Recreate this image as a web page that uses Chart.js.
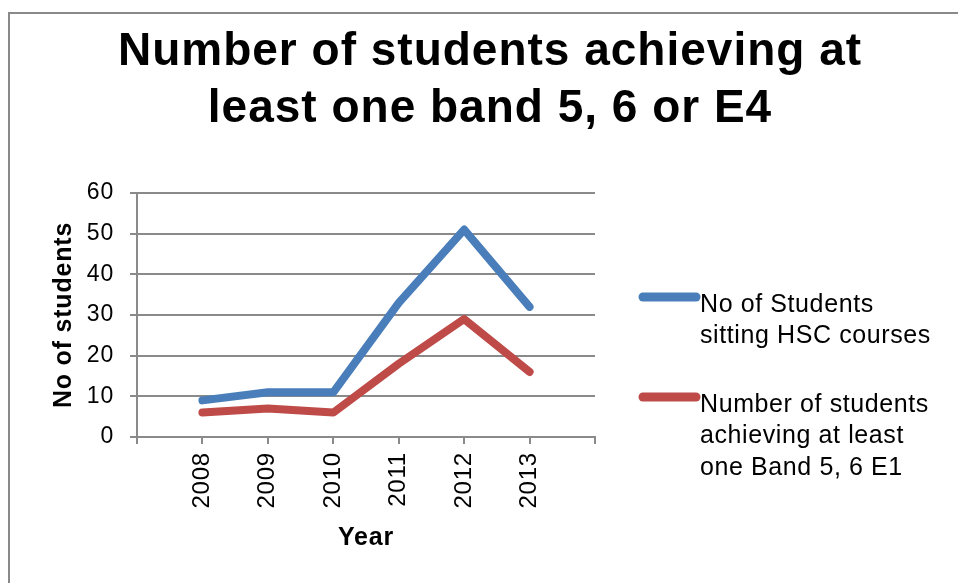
<!DOCTYPE html>
<html><head><meta charset="utf-8">
<script src="https://cdn.jsdelivr.net/npm/chart.js@4/dist/chart.umd.min.js"></script>
<style>
html,body{margin:0;padding:0;background:#fff;width:958px;height:583px;overflow:hidden}
#frame{position:absolute;left:8px;top:12px;width:980px;height:620px;border-top:2px solid #898989;border-left:2px solid #898989;}
#wrap{position:absolute;left:0;top:0;width:958px;height:583px}
</style></head><body>
<div id="frame"></div>
<div id="wrap"><canvas id="c" width="958" height="583"></canvas></div>
<script>
// ---- data ----
const titleLines = ['Number of students achieving at', 'least one band 5, 6 or E4'];
const years = [2008, 2009, 2010, 2011, 2012, 2013];
const sittingHSC = [9, 11, 11, 33, 51, 32];
const achievingBand = [6, 7, 6, 18, 29, 16];
const seriesNames = [
  ['No of Students', 'sitting HSC courses'],
  ['Number of students', 'achieving at least', 'one Band 5, 6 E1']
];
const yTickValues = [0, 10, 20, 30, 40, 50, 60];
const xTitle = 'Year';
const yTitle = 'No of students';

// ---- styles ----
const seriesColors = ['#4A7EBB', '#BE4B48'];
const gridColor = '#8a8a8a';
const FONT = '"Liberation Sans", Arial, Helvetica, sans-serif';
Chart.defaults.font.family = FONT;
Chart.defaults.color = '#000';

const toPoints = arr => arr.map((v, i) => ({x: years[i], y: v}));

const spacingPlugin = {
  id: 'spacing',
  beforeDraw(chart) { chart.ctx.letterSpacing = '0.8px'; },
  beforeDatasetsDraw(chart) { chart.ctx.letterSpacing = '0px'; }
};

const titlePlugin = {
  id: 'customTitle',
  afterDraw(chart) {
    const ctx = chart.ctx;
    ctx.save();
    ctx.letterSpacing = '1px';
    ctx.font = 'bold 46px ' + FONT;
    ctx.fillStyle = '#000';
    ctx.textAlign = 'center';
    ctx.textBaseline = 'alphabetic';
    const base = [65, 121.5];
    titleLines.forEach((t, i) => ctx.fillText(t, 490, base[i]));
    ctx.restore();
  }
};

const legendPlugin = {
  id: 'customLegend',
  afterDraw(chart) {
    const ctx = chart.ctx;
    ctx.save();
    const tops = [297, 397];
    chart.data.datasets.forEach((ds, i) => {
      const y = tops[i];
      ctx.strokeStyle = ds.borderColor;
      ctx.lineWidth = 9;
      ctx.lineCap = 'round';
      ctx.beginPath();
      ctx.moveTo(643, y);
      ctx.lineTo(696, y);
      ctx.stroke();
      ctx.letterSpacing = '0.6px';
      ctx.font = '25px ' + FONT;
      ctx.fillStyle = '#000';
      ctx.textAlign = 'left';
      ctx.textBaseline = 'alphabetic';
      seriesNames[i].forEach((line, k) => ctx.fillText(line, 700, y + 14.5 + k * 31.5));
    });
    ctx.restore();
  }
};

new Chart(document.getElementById('c'), {
  type: 'line',
  data: {
    datasets: [
      {label: seriesNames[0].join(' '), data: toPoints(sittingHSC), borderColor: seriesColors[0], backgroundColor: seriesColors[0]},
      {label: seriesNames[1].join(' '), data: toPoints(achievingBand), borderColor: seriesColors[1], backgroundColor: seriesColors[1]}
    ]
  },
  options: {
    responsive: false,
    animation: false,
    devicePixelRatio: 1,
    layout: {padding: {left: 0, top: 193, right: 363, bottom: 0}},
    elements: {
      line: {borderWidth: 8, tension: 0, borderCapStyle: 'round', borderJoinStyle: 'round', fill: false},
      point: {radius: 0, hoverRadius: 0}
    },
    plugins: {legend: {display: false}, title: {display: false}, tooltip: {enabled: false}},
    scales: {
      x: {
        type: 'linear',
        min: years[0] - 1,
        max: years[years.length - 1] + 1,
        afterFit(s) { s.height = 146; },
        afterBuildTicks(s) {
          const t = [years[0] - 1, ...years, years[years.length - 1] + 1];
          s.ticks = t.map(v => ({value: v}));
        },
        ticks: {
          autoSkip: false, maxRotation: 90, minRotation: 90, padding: 8,
          font: {size: 24},
          callback: v => years.includes(v) ? String(v) : ''
        },
        grid: {drawOnChartArea: false, drawTicks: true, tickLength: 7, color: gridColor, lineWidth: 2},
        border: {display: true, color: gridColor, width: 2},
        title: {display: true, text: xTitle, font: {size: 25, weight: 'bold'}, padding: {top: 0, bottom: 30}}
      },
      y: {
        min: yTickValues[0],
        max: yTickValues[yTickValues.length - 1],
        afterFit(s) { s.width = 137; },
        afterBuildTicks(s) { s.ticks = yTickValues.map(v => ({value: v})); },
        ticks: {padding: 16, font: {size: 23}, callback: v => String(v)},
        grid: {drawTicks: true, tickLength: 7, color: gridColor, lineWidth: 2},
        border: {display: true, color: gridColor, width: 2},
        title: {display: true, text: yTitle, font: {size: 25, weight: 'bold'}, padding: {top: 49, bottom: 0}}
      }
    }
  },
  plugins: [spacingPlugin, titlePlugin, legendPlugin]
});
</script>
</body></html>
